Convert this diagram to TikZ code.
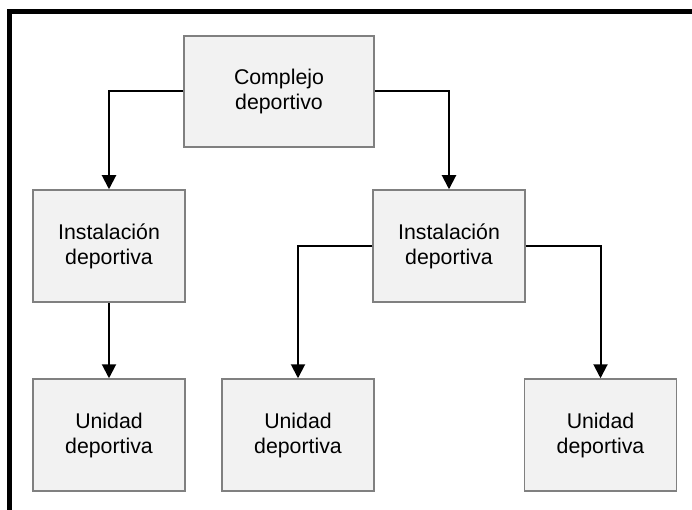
\documentclass[tikz,border=0pt]{standalone}
\usepackage{fontspec}
\setmainfont{Liberation Sans}
\usetikzlibrary{arrows.meta}
\definecolor{boxfill}{RGB}{242,242,242}
\definecolor{boxline}{RGB}{128,128,128}
\tikzset{
  box/.style={draw=boxline, line width=1.5pt, fill=boxfill, align=center,
    minimum width=152pt, minimum height=112pt, inner sep=0pt,
    font=\fontsize{21.3}{25}\selectfont},
  conn/.style={line width=2pt, -{Triangle[width=14pt,length=14pt]}}
}
\begin{document}
\begin{tikzpicture}[x=1pt,y=-1pt]
\useasboundingbox (0,0) rectangle (692,510);
\fill[white] (0,0) rectangle (692,510);
% frame
\fill[black] (7,9) rectangle (692,14);
\fill[black] (7,9) rectangle (12,510);
% nodes
\node[box, minimum width=190pt, minimum height=111pt] (top) at (279,91.5) {Complejo\\deportivo};
\node[box] (inL) at (109,246) {Instalación\\deportiva};
\node[box] (inR) at (449,246) {Instalación\\deportiva};
\node[box] (uL) at (109,435) {Unidad\\deportiva};
\node[box] (uM) at (298,435) {Unidad\\deportiva};
\node[box] (uR) at (600.5,435) {Unidad\\deportiva};
% connectors
\draw[conn] (top.west) -| (inL.north);
\draw[conn] (top.east) -| (inR.north);
\draw[conn] (inL.south) -- (uL.north);
\draw[conn] (inR.west) -| (uM.north);
\draw[conn] (inR.east) -| (uR.north);
\end{tikzpicture}
\end{document}
